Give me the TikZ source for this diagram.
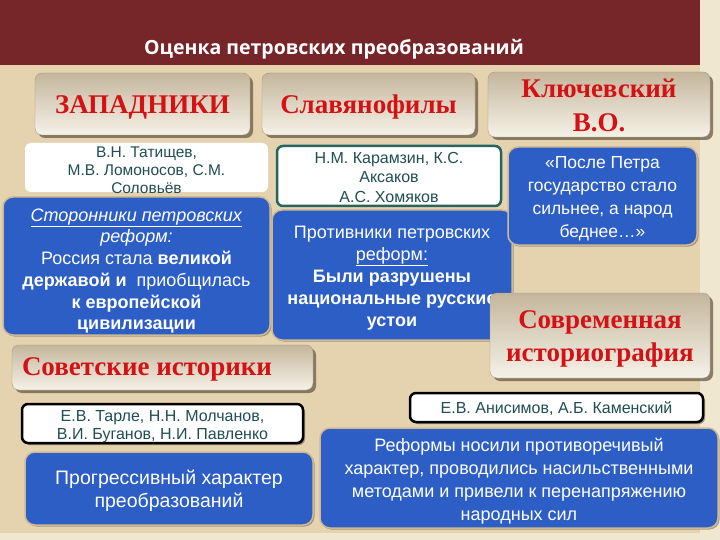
\documentclass[tikz,border=0pt]{standalone}
\usepackage{fontspec}
\setmainfont{Liberation Sans}
\newfontfamily\headfont{Liberation Serif}
\newfontfamily\titlefont{Open Sans}
\usetikzlibrary{shadows}

\definecolor{bgtan}{RGB}{228,211,174}
\definecolor{bglight}{RGB}{240,231,208}
\definecolor{titlered}{RGB}{118,38,40}
\definecolor{headtop}{RGB}{196,182,156}
\definecolor{headbot}{RGB}{246,242,232}
\definecolor{headline}{RGB}{170,155,130}
\definecolor{shadowc}{RGB}{105,90,70}
\definecolor{redtext}{RGB}{212,18,22}
\definecolor{listtext}{RGB}{32,78,82}
\definecolor{tealrim}{RGB}{38,100,96}
\definecolor{bluefill}{RGB}{44,94,198}
\definecolor{bluerim}{RGB}{205,186,148}

\begin{document}
\begin{tikzpicture}
[
x=1pt, y=-1pt,
head-a/.style={rectangle, rounded corners=7pt, draw=headline, top color=headtop,
  bottom color=headbot, inner sep=0pt,
  drop shadow={shadow xshift=3pt, shadow yshift=-3pt, fill=shadowc, opacity=.75}},
list-a/.style={rectangle, rounded corners=6pt, fill=white, inner sep=0pt},
list-b/.style={list-a, draw=tealrim, line width=2.5pt},
list-c/.style={list-a, draw=black, line width=2.5pt,
  drop shadow={shadow xshift=2pt, shadow yshift=-2pt, fill=shadowc, opacity=.6}},
blue-a/.style={rectangle, rounded corners=10pt, fill=bluefill, draw=bluerim,
  line width=1.5pt, inner sep=0pt,
  drop shadow={shadow xshift=1.5pt, shadow yshift=-1.5pt, fill=shadowc, opacity=.5}},
text-a/.style={inner sep=0pt, align=center, text=redtext,
  font=\headfont\bfseries\fontsize{27}{34}\selectfont},
text-b/.style={inner sep=0pt, align=center, text=listtext,
  font=\fontsize{15.5}{18}\selectfont},
text-c/.style={inner sep=0pt, align=center, text=white,
  font=\fontsize{18}{21.7}\selectfont}
]
% background and title bar
\fill [bgtan] (0,0) rectangle (720,540);
\fill [bglight] (700,0) rectangle (720,540);
\fill [bglight] (0,533) rectangle (720,540);
\fill [titlered] (0,0) rectangle (700,65);
\node (title) [text=white, font=\titlefont\bfseries\fontsize{19.5}{22}\selectfont]
  at (334,49) {Оценка петровских преобразований};

% first row
\node (head-1) [head-a, minimum width=215pt, minimum height=62pt] at (142.5,104) {};
\node (head-1-txt) [text-a] at ([yshift=-3pt]head-1.center) {ЗАПАДНИКИ};
\node (head-2) [head-a, minimum width=213pt, minimum height=62pt] at (368.5,104) {};
\node (head-2-txt) [text-a] at ([yshift=-3pt]head-2.center) {Славянофилы};
\node (head-3) [head-a, minimum width=222pt, minimum height=65pt] at (599,104.5) {};
\node (head-3-txt) [text-a] at ([yshift=-1pt]head-3.center) {Ключевский\\В.О.};

\node (list-1) [list-a, minimum width=243pt, minimum height=49pt] at (146.5,167.5) {};
\node (list-1-txt) [text-b] at ([yshift=-3pt]list-1.center)
  {В.Н. Татищев,\\М.В. Ломоносов, С.М.\\Соловьёв};
\node (list-2) [list-b, minimum width=224pt, minimum height=60pt] at (389,176) {};
\node (list-2-txt) [text-b, font=\fontsize{16}{19.5}\selectfont]
  at ([yshift=-1pt]list-2.center) {Н.М. Карамзин, К.С.\\Аксаков\\А.С. Хомяков};

\node (blue-1) [blue-a, minimum width=267pt, minimum height=138pt] at (136.5,266) {};
\node (blue-1-txt) [text-c] at ([yshift=-5pt]blue-1.center)
  {\underline{\textit{Сторонники петровских}}\\\textit{реформ:}\\
   Россия стала \textbf{великой}\\\textbf{державой и}\ \ приобщилась\\
   \textbf{к европейской}\\\textbf{цивилизации}};
\node (blue-2) [blue-a, minimum width=240pt, minimum height=130pt] at (392,275) {};
\node (blue-2-txt) [text-c, font=\fontsize{18}{22}\selectfont]
  at ([yshift=-3pt]blue-2.center)
  {Противники петровских\\\underline{реформ:}\\\textbf{Были разрушены}\\
   \textbf{национальные русские}\\\textbf{устои}};
\node (blue-3) [blue-a, minimum width=189pt, minimum height=98pt] at (602.5,196) {};
\node (blue-3-txt) [text-c, font=\fontsize{17.5}{23}\selectfont]
  at ([yshift=-2.5pt]blue-3.center)
  {«После Петра\\государство стало\\сильнее, а народ\\беднее…»};

% second row
\node (head-4) [head-a, minimum width=301pt, minimum height=45pt] at (162.5,367.5) {};
\node (head-4-txt) [text-a, anchor=west]
  at ([xshift=10pt, yshift=-2pt]head-4.west) {Советские историки};
\node (head-5) [head-a, minimum width=220pt, minimum height=85pt] at (600,335.5) {};
\node (head-5-txt) [text-a, font=\headfont\bfseries\fontsize{27}{33}\selectfont]
  at ([yshift=-3pt]head-5.center) {Современная\\историография};

\node (list-3) [list-c, minimum width=281pt, minimum height=39pt] at (162.5,423.5) {};
\node (list-3-txt) [text-b, font=\fontsize{16}{18}\selectfont]
  at ([yshift=-3pt]list-3.center)
  {Е.В. Тарле, Н.Н. Молчанов,\\В.И. Буганов, Н.И. Павленко};
\node (list-4) [list-c, minimum width=293pt, minimum height=29pt] at (556.5,407.5) {};
\node (list-4-txt) [text-b, font=\fontsize{16}{18}\selectfont]
  at ([yshift=-1pt]list-4.center) {Е.В. Анисимов, А.Б. Каменский};

\node (blue-4) [blue-a, minimum width=288pt, minimum height=73pt] at (169,488.5) {};
\node (blue-4-txt) [text-c, font=\fontsize{19.5}{23}\selectfont]
  at ([yshift=-2pt]blue-4.center) {Прогрессивный характер\\преобразований};
\node (blue-5) [blue-a, minimum width=398pt, minimum height=100pt] at (519,478) {};
\node (blue-5-txt) [text-c, font=\fontsize{18}{23}\selectfont]
  at ([yshift=-3pt]blue-5.center)
  {Реформы носили противоречивый\\характер, проводились насильственными\\
   методами и привели к перенапряжению\\народных сил};
\end{tikzpicture}
\end{document}
